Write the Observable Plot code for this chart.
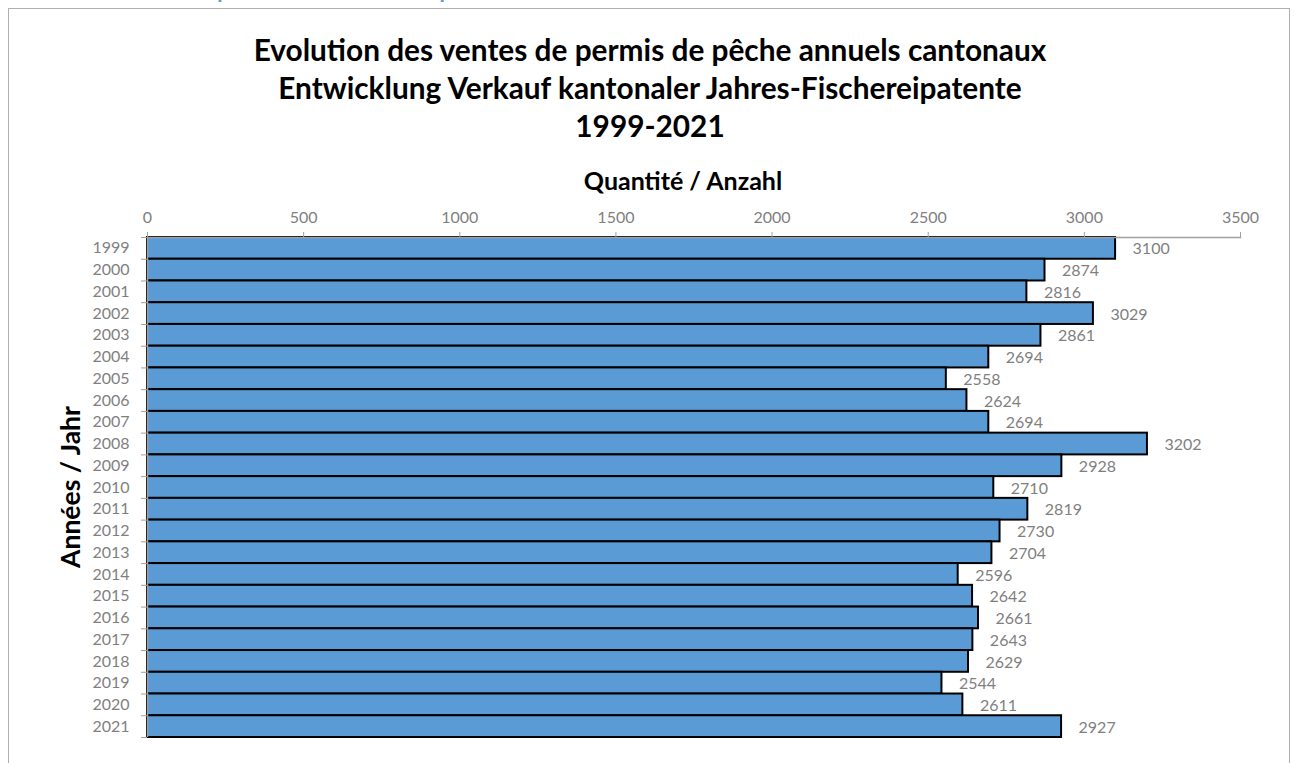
<!DOCTYPE html>
<html>
<head>
<meta charset="utf-8">
<script src="https://cdn.jsdelivr.net/npm/d3@7"></script>
<script src="https://cdn.jsdelivr.net/npm/@observablehq/plot@0.6"></script>
<style>
  html, body { margin: 0; padding: 0; background: #fff; overflow: hidden; }
  body { width: 1295px; height: 763px; position: relative; font-family: Lato, "Open Sans", sans-serif; }
  #toptext { position: absolute; left: 82px; top: -29px; font-size: 29.5px; line-height: 29px; color: #5b9bd5; white-space: nowrap; }
  #frame { position: absolute; left: 8px; top: 8px; width: 1282px; height: 800px; border: 1.5px solid #b0b0b0; box-sizing: border-box; background: #fff; }
  .title { position: absolute; left: 9px; width: 1282px; text-align: center; font-weight: bold; font-size: 29.8px; line-height: 38px; color: #000; white-space: nowrap; }
  #xtitle { position: absolute; left: 433px; width: 500px; top: 165px; text-align: center; font-weight: bold; font-size: 25px; line-height: 30px; white-space: nowrap; }
  #ytitle { position: absolute; left: 70px; top: 487px; transform: translate(-50%, -50%) rotate(-90deg); font-weight: bold; font-size: 26.5px; line-height: 30px; white-space: nowrap; }
  #chart { position: absolute; left: 0; top: 190px; }
</style>
</head>
<body>
<div id="toptext">Permis de pêche / Fischereipatente</div>
<div id="frame"></div>
<div class="title" style="top:31px">Evolution des ventes de permis de pêche annuels cantonaux</div>
<div class="title" style="top:69px">Entwicklung Verkauf kantonaler Jahres-Fischereipatente</div>
<div class="title" style="top:107px">1999-2021</div>
<div id="xtitle">Quantité / Anzahl</div>
<div id="ytitle">Années / Jahr</div>
<div id="chart"></div>
<script>
const years = ["1999","2000","2001","2002","2003","2004","2005","2006","2007","2008","2009","2010","2011","2012","2013","2014","2015","2016","2017","2018","2019","2020","2021"];
const values = [3100,2874,2816,3029,2861,2694,2558,2624,2694,3202,2928,2710,2819,2730,2704,2596,2642,2661,2643,2629,2544,2611,2927];
const xTicks = [0,500,1000,1500,2000,2500,3000,3500];

const data = years.map((y, i) => ({year: y, value: values[i]}));

const W = 1295, H = 573;
const mTop = 47, mBottom = 26, mLeft = 147, mRight = 55;
const bw = (H - mTop - mBottom) / years.length;
const gray = "#7f7f7f";

const plot = Plot.plot({
  width: W,
  height: H,
  marginTop: mTop,
  marginBottom: mBottom,
  marginLeft: mLeft,
  marginRight: mRight,
  style: { fontFamily: "Lato, 'Open Sans', sans-serif", background: "transparent", overflow: "visible" },
  x: { domain: [0, 3500] },
  y: { domain: years, padding: 0, round: false },
  marks: [
    Plot.barX(data, { y: "year", x: "value", fill: "#5b9bd5", stroke: "#000", strokeWidth: 2 }),
    Plot.ruleX([0], { stroke: "#a0a0a0", strokeWidth: 1.5 }),
    Plot.frame({ anchor: "top", stroke: "#a0a0a0", strokeWidth: 1.5 }),
    Plot.axisX({ anchor: "top", ticks: xTicks, tickSize: 6, tickPadding: 9, fontSize: 16, color: gray, stroke: "#a0a0a0", label: null, tickFormat: d => String(d) }),
    Plot.axisY({ anchor: "left", tickSize: 0, tickPadding: 18, fontSize: 16, color: gray, label: null }),
    Plot.axisY({ anchor: "left", tickSize: 6, text: null, dy: -bw / 2, stroke: "#a0a0a0", label: null }),
    Plot.axisY({ anchor: "left", ticks: [years[years.length - 1]], tickSize: 6, text: null, dy: bw / 2, stroke: "#a0a0a0", label: null }),
    Plot.text(data, { y: "year", x: "value", text: d => String(d.value), textAnchor: "start", dx: 17, dy: 1, fill: gray, fontSize: 16 })
  ]
});
document.getElementById("chart").appendChild(plot);
</script>
</body>
</html>
